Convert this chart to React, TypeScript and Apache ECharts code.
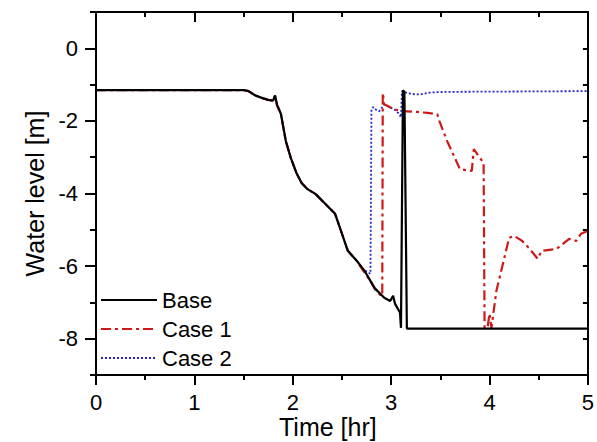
import React, { useEffect, useRef } from "react";
import * as echarts from "echarts";

// ---- data ----
const baseTime = [0, 1.5, 1.55, 1.62, 1.7, 1.75, 1.8, 1.82, 1.84, 1.88, 1.93, 1.98, 2.04, 2.09, 2.15, 2.23, 2.33, 2.43, 2.48, 2.56, 2.65, 2.73, 2.83, 2.93, 2.99, 3.02, 3.04, 3.09, 3.1, 3.12, 3.135, 3.16, 5.0];
const baseLevel = [-1.15, -1.15, -1.18, -1.3, -1.38, -1.42, -1.44, -1.3, -1.55, -1.81, -2.56, -3.02, -3.45, -3.71, -3.88, -4.01, -4.28, -4.56, -4.95, -5.58, -5.85, -6.13, -6.6, -6.87, -6.96, -6.82, -7.04, -7.28, -7.7, -1.16, -1.2, -7.72, -7.72];

const case1Time = [0, 1.5, 1.55, 1.62, 1.7, 1.75, 1.8, 1.82, 1.84, 1.88, 1.93, 1.98, 2.04, 2.09, 2.15, 2.23, 2.33, 2.43, 2.48, 2.56, 2.65, 2.73, 2.8, 2.85, 2.9, 2.91, 2.915, 2.93, 3.03, 3.11, 3.25, 3.37, 3.47, 3.49, 3.57, 3.7, 3.82, 3.84, 3.94, 3.95, 3.98, 4.0, 4.02, 4.07, 4.2, 4.25, 4.33, 4.4, 4.49, 4.53, 4.68, 4.81, 4.88, 4.93, 5.0];
const case1Level = [-1.15, -1.15, -1.18, -1.3, -1.38, -1.42, -1.44, -1.32, -1.58, -1.83, -2.56, -3.02, -3.45, -3.71, -3.88, -4.01, -4.28, -4.56, -4.95, -5.58, -5.85, -6.18, -6.45, -6.7, -6.82, -6.82, -1.23, -1.54, -1.68, -1.73, -1.75, -1.78, -1.82, -2.0, -2.56, -3.33, -3.38, -2.78, -3.16, -7.7, -7.7, -7.31, -7.7, -6.68, -5.22, -5.17, -5.3, -5.5, -5.8, -5.58, -5.53, -5.25, -5.31, -5.11, -5.03];

const case2Time = [0, 1.5, 1.55, 1.62, 1.7, 1.75, 1.8, 1.82, 1.84, 1.88, 1.93, 1.98, 2.04, 2.09, 2.15, 2.23, 2.33, 2.43, 2.48, 2.56, 2.65, 2.7, 2.75, 2.79, 2.8, 2.82, 2.85, 2.88, 2.93, 2.96, 3.03, 3.08, 3.1, 3.11, 3.13, 3.17, 3.25, 3.3, 3.39, 3.55, 5.0];
const case2Level = [-1.15, -1.15, -1.18, -1.3, -1.38, -1.42, -1.44, -1.3, -1.55, -1.81, -2.56, -3.02, -3.45, -3.71, -3.88, -4.01, -4.28, -4.56, -4.95, -5.58, -5.85, -6.05, -6.15, -6.21, -1.68, -1.62, -1.7, -1.73, -1.55, -1.59, -1.68, -1.8, -1.9, -1.18, -1.2, -1.24, -1.27, -1.27, -1.22, -1.2, -1.18];

const seriesNames = ["Base", "Case 1", "Case 2"];
const yMajorTicks = [0, -2, -4, -6, -8];
const xTitle = "Time [hr]";
const yTitle = "Water level [m]";

const pairs = (xs: number[], ys: number[]) => xs.map((x, i) => [x, ys[i]]);

const FONT = "'Liberation Sans', Arial, sans-serif";

export default function App() {
  const ref = useRef<HTMLDivElement>(null);
  useEffect(() => {
    if (!ref.current) return;
    const chart = echarts.init(ref.current, undefined, { renderer: "svg" });
    const axisLine = { show: true, onZero: false, lineStyle: { color: "#000", width: 2 } };
    const baseY = { type: "value", min: -9, max: 1, interval: 1, splitLine: { show: false } };
    chart.setOption({
      animation: false,
      backgroundColor: "#fff",
      textStyle: { fontFamily: FONT },
      grid: { left: 96, right: 5, top: 12, bottom: 67, containLabel: false },
      legend: {
        data: seriesNames,
        orient: "vertical",
        left: 100,
        top: 289,
        itemWidth: 56,
        itemHeight: 14,
        itemGap: 7,
        padding: 0,
        itemStyle: { opacity: 0, borderWidth: 0 },
        textStyle: { fontFamily: FONT, fontSize: 22, color: "#000" },
      },
      xAxis: [
        {
          type: "value", position: "bottom", min: 0, max: 5, interval: 1,
          axisLine,
          axisTick: { show: true, inside: false, length: 10, lineStyle: { width: 2, color: "#000" } },
          minorTick: { show: true, splitNumber: 2, length: 5, lineStyle: { width: 2, color: "#000" } },
          axisLabel: { fontSize: 22, lineHeight: 18, color: "#000", margin: 18, fontFamily: FONT },
          splitLine: { show: false },
        },
        {
          type: "value", position: "top", min: 0, max: 5, interval: 1,
          axisLine,
          axisTick: { show: true, inside: true, length: 10, lineStyle: { width: 2, color: "#000" } },
          minorTick: { show: true, splitNumber: 2, length: 5, lineStyle: { width: 2, color: "#000" } },
          axisLabel: { show: false },
          splitLine: { show: false },
        },
      ],
      yAxis: [
        {
          ...baseY, position: "left",
          axisLine,
          axisTick: { show: true, inside: false, length: 6, lineStyle: { width: 2, color: "#000" } },
          axisLabel: { fontSize: 22, color: "#000", margin: 18, fontFamily: FONT, customValues: yMajorTicks },
          name: yTitle, nameLocation: "middle", nameGap: 46,
          nameTextStyle: { fontSize: 25, color: "#000", fontFamily: FONT },
        },
        {
          ...baseY, position: "left",
          axisLine: { show: false },
          axisTick: { show: true, inside: false, length: 11, customValues: yMajorTicks, lineStyle: { width: 2, color: "#000" } },
          axisLabel: { show: false },
        },
        {
          ...baseY, position: "right",
          axisLine,
          axisTick: { show: true, inside: true, length: 5, lineStyle: { width: 2, color: "#000" } },
          axisLabel: { show: false },
        },
        {
          ...baseY, position: "right",
          axisLine: { show: false },
          axisTick: { show: true, inside: true, length: 10, customValues: yMajorTicks, lineStyle: { width: 2, color: "#000" } },
          axisLabel: { show: false },
        },
      ],
      graphic: [
        {
          type: "text", left: 329 - 50, top: 414,
          style: { text: xTitle, fontSize: 25, lineHeight: 22, fill: "#000", fontFamily: FONT },
        },
      ],
      series: [
        {
          name: "Case 2", type: "line", data: pairs(case2Time, case2Level),
          showSymbol: false, symbol: "none", z: 2,
          lineStyle: { color: "#2424cc", width: 1.8, type: [2, 2] },
          itemStyle: { color: "#2424cc" },
        },
        {
          name: "Case 1", type: "line", data: pairs(case1Time, case1Level),
          showSymbol: false, symbol: "none", z: 3,
          lineStyle: { color: "#d01818", width: 2.2, type: [10, 4, 3, 4] },
          itemStyle: { color: "#d01818" },
        },
        {
          name: "Base", type: "line", data: pairs(baseTime, baseLevel),
          showSymbol: false, symbol: "none", z: 4,
          lineStyle: { color: "#000", width: 2.2 },
          itemStyle: { color: "#000" },
        },
      ],
    });
    return () => chart.dispose();
  }, []);
  return <div ref={ref} style={{ width: 597, height: 442, position: "absolute", left: 0, top: 0 }} />;
}
